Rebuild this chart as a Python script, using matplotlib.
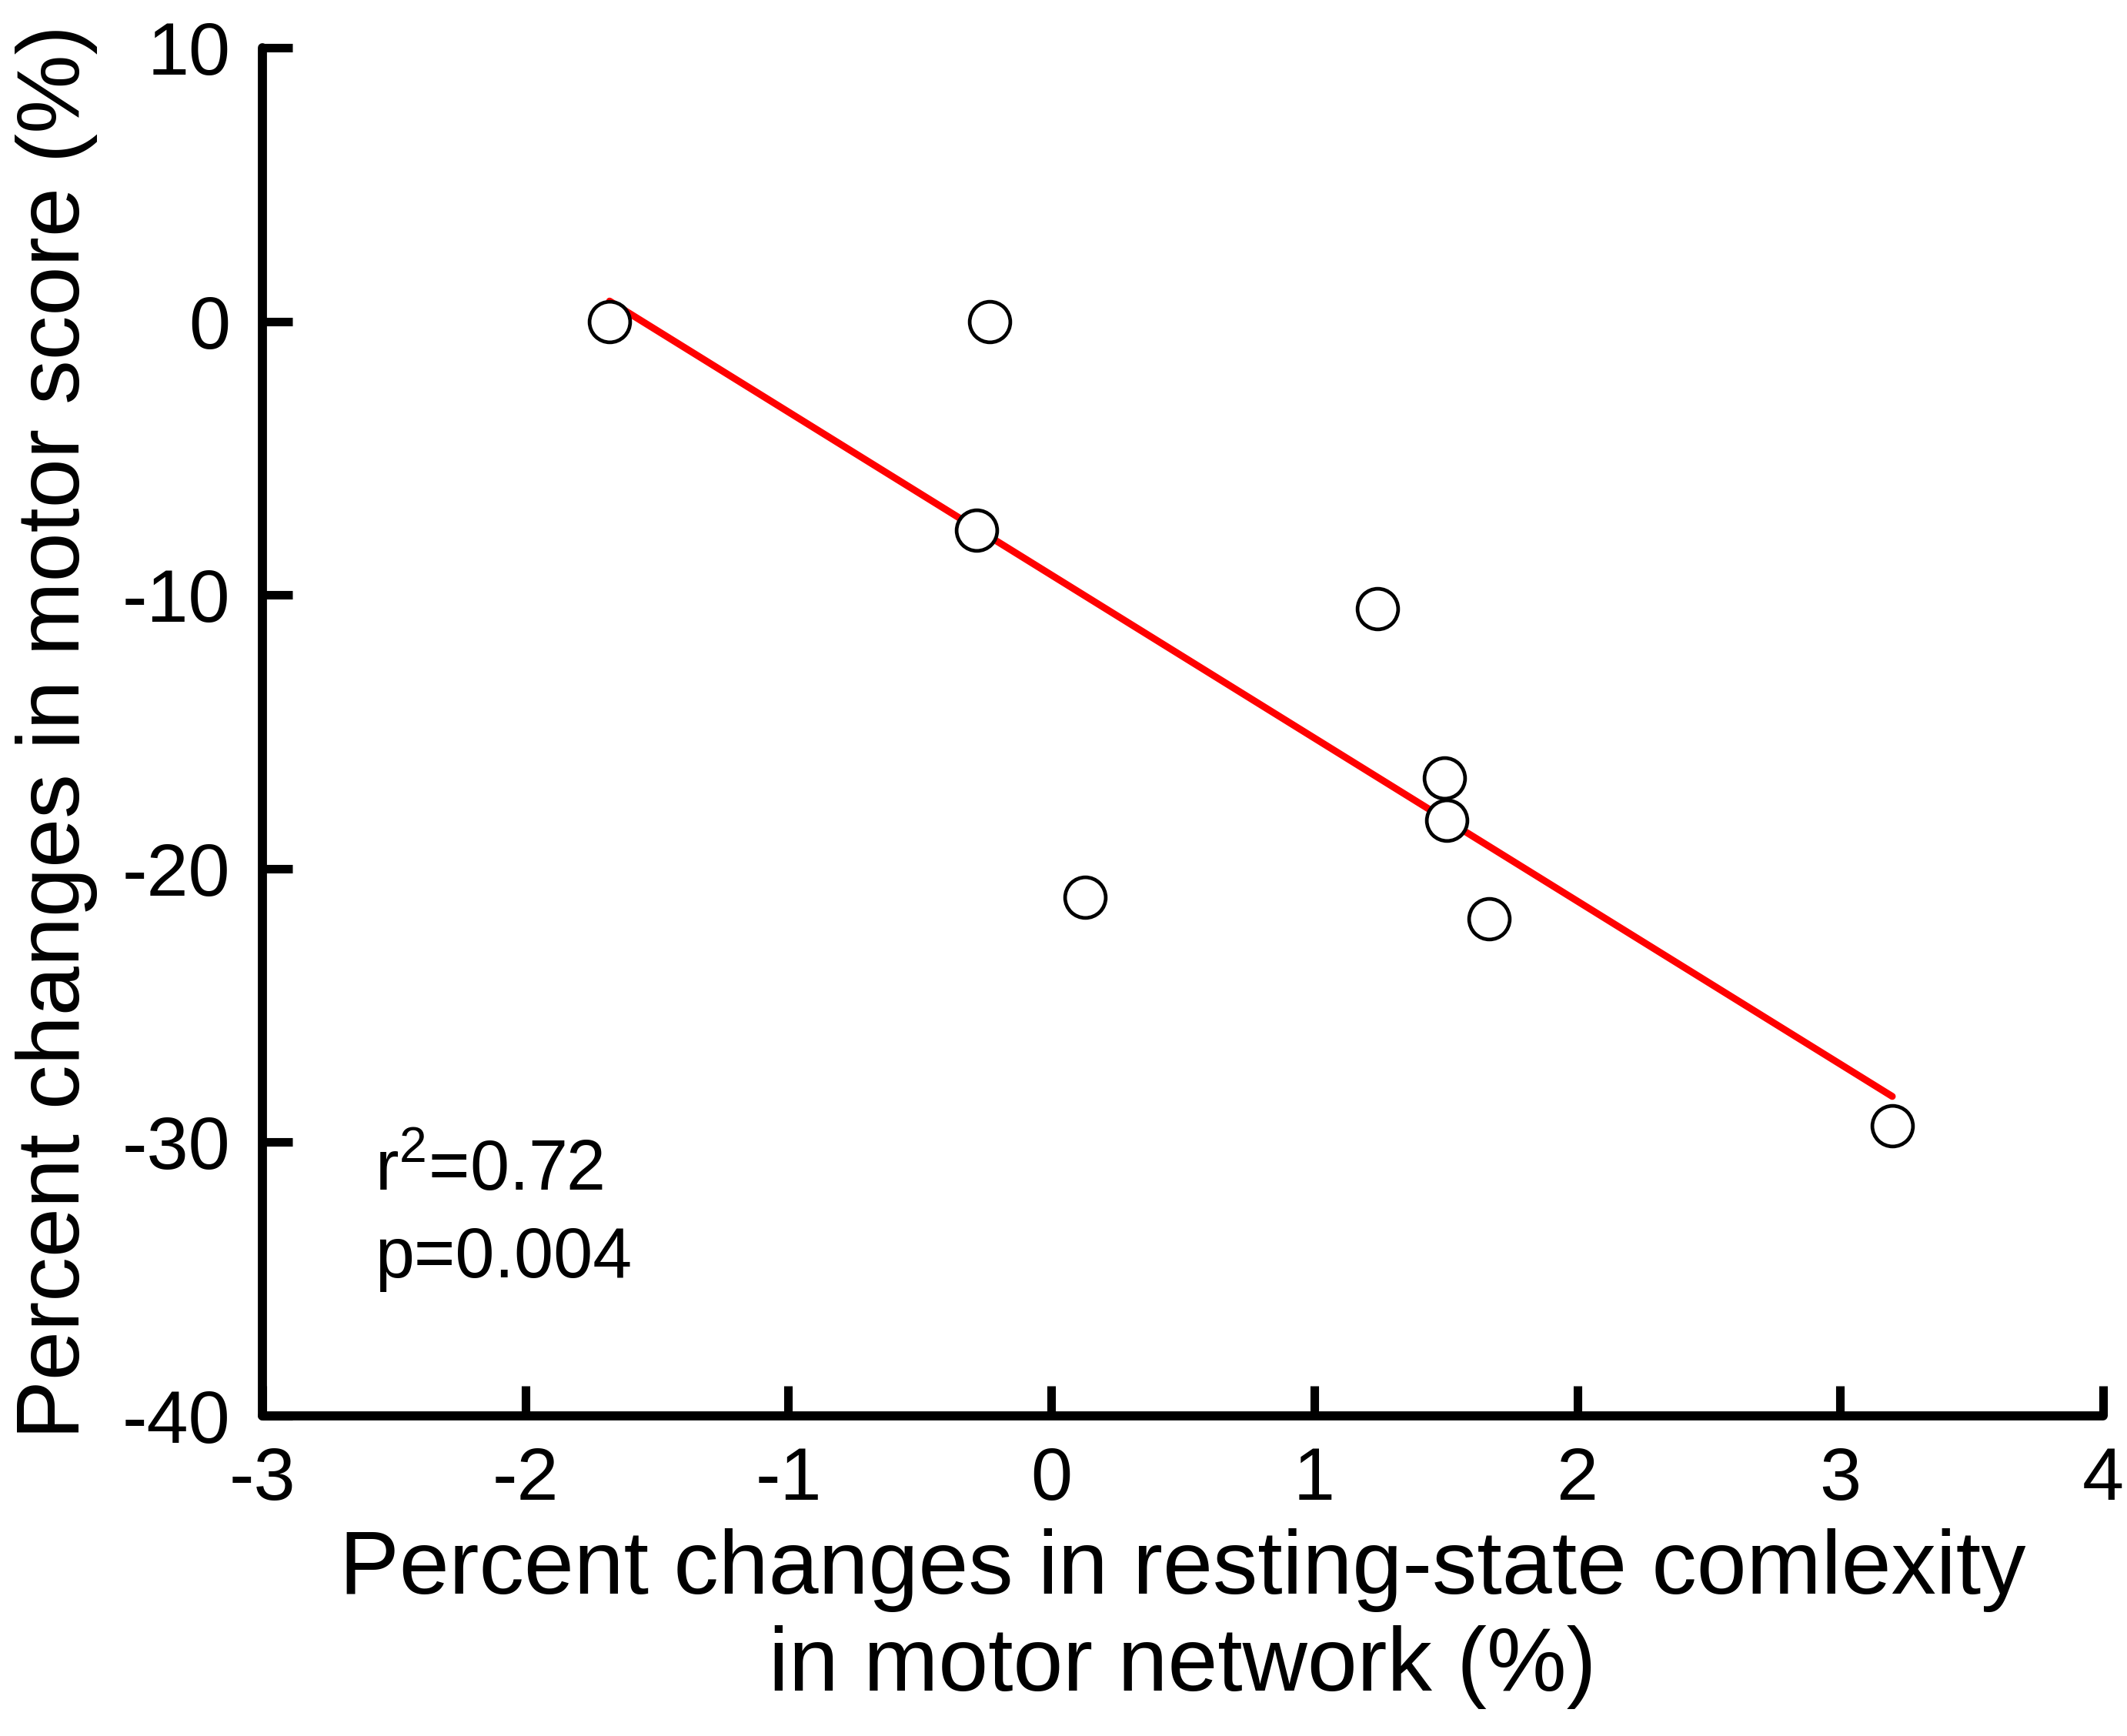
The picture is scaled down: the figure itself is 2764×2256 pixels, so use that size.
import numpy as np
import matplotlib
matplotlib.use("Agg")
import matplotlib.pyplot as plt

plt.rcParams['font.family'] = ['Liberation Sans', 'DejaVu Sans']
plt.rcParams['axes.unicode_minus'] = False

# values
complexity_change = [-1.68, -0.235, -0.284, 1.239, 1.494, 1.504, 0.128, 1.665, 3.198]
motor_change = [0.0, 0.0, -7.62, -10.51, -16.68, -18.22, -21.04, -21.82, -29.41]
x_ticks = [-3, -2, -1, 0, 1, 2, 3, 4]
y_ticks = [-40, -30, -20, -10, 0, 10]

x = np.array(complexity_change)
y = np.array(motor_change)
slope, intercept = np.polyfit(x, y, 1)
fit_x = np.array([x.min(), x.max()])

fig = plt.figure(figsize=(27.64, 22.56), dpi=100)
ax = fig.add_axes([0.1234, 0.1844, 0.8654, 0.7881])

ax.plot(fit_x, slope * fit_x + intercept, color='#ff0000', lw=6.5,
        solid_capstyle='round', zorder=2)
ax.plot(x, y, 'o', ms=38, mfc='white', mec='black', mew=3.4, zorder=3)

ax.set_xlim(-3, 4)
ax.set_ylim(-40, 10)
ax.set_xticks(x_ticks)
ax.set_yticks(y_ticks)

for side in ['top', 'right']:
    ax.spines[side].set_visible(False)
for side in ['left', 'bottom']:
    ax.spines[side].set_linewidth(8.5)
    ax.spines[side].set_capstyle('round')

ax.tick_params(direction='in', length=28, width=8, labelsize=70, pad=30)
ax.tick_params(axis='x', pad=28)

ax.set_xlabel("Percent changes in resting-state comlexity\nin motor network (%)",
              fontsize=84, labelpad=12)
ax.set_ylabel("Percent changes in motor score (%)", fontsize=83, labelpad=23)

ax.text(0.061, 0.1648, r'r$^{\mathregular{2}}$=0.72', transform=ax.transAxes,
        fontsize=66, va='baseline', ha='left')
ax.text(0.061, 0.1012, 'p=0.004', transform=ax.transAxes,
        fontsize=66, va='baseline', ha='left')

fig.savefig('out.png', dpi=100)
